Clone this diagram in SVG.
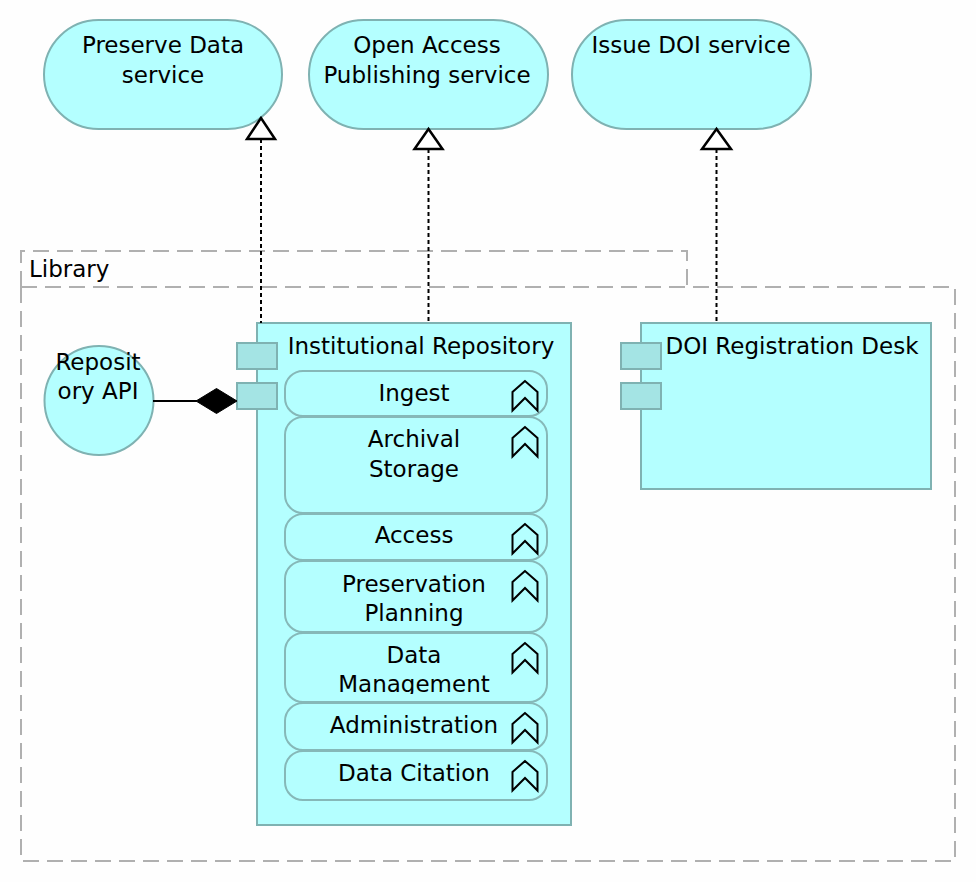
<svg xmlns="http://www.w3.org/2000/svg" width="976" height="882" viewBox="0 0 976 882">
<defs>
<style>
text{font-family:"DejaVu Sans","Liberation Sans",sans-serif;font-size:23px;fill:#000}
.c{text-anchor:middle}
.svc{fill:#b4ffff;stroke:#7fb2b2;stroke-width:2}
.comp{fill:#b4ffff;stroke:#7fb2b2;stroke-width:2}
.port{fill:#a4e4e4;stroke:#7fb2b2;stroke-width:2}
.fn{fill:#b4ffff;stroke:#86b8b8;stroke-width:2}
.ico{fill:none;stroke:#000;stroke-width:2;stroke-linejoin:miter}
.grp{fill:none;stroke:#b0b0b0;stroke-width:2;stroke-dasharray:16 8}
.real{fill:none;stroke:#000;stroke-width:2;stroke-dasharray:4 3}
.tri{fill:#fff;stroke:#000;stroke-width:2.5}
</style>
<clipPath id="clipDM"><rect x="285" y="633" width="262" height="61"/></clipPath>
</defs>
<rect width="976" height="882" fill="#fefefe"/>

<g id="library">
<path class="grp" d="M21,287 V251 H687 V287"/>
<rect class="grp" x="21" y="287" width="934" height="574"/>
<text x="29" y="277">Library</text>
</g>

<g id="svc-preserve">
<rect class="svc" x="44" y="20" width="238" height="109" rx="54.5"/>
<text class="c" x="163" y="53">Preserve Data</text>
<text class="c" x="163" y="83">service</text>
</g>
<g id="svc-openaccess">
<rect class="svc" x="309" y="20" width="239" height="109" rx="54.5"/>
<text class="c" x="427" y="53">Open Access</text>
<text class="c" x="427" y="83">Publishing service</text>
</g>
<g id="svc-doi">
<rect class="svc" x="572" y="20" width="239" height="109" rx="54.5"/>
<text class="c" x="691" y="53">Issue DOI service</text>
</g>

<g id="repo">
<rect class="comp" x="257" y="323" width="314" height="502"/>
<rect class="port" x="237" y="343" width="40" height="26"/>
<rect class="port" x="237" y="383" width="40" height="26"/>
<text class="c" x="421" y="354">Institutional Repository</text>
</g>

<g id="fn-ingest">
<rect class="fn" x="285" y="371" width="262" height="45" rx="18"/>
<text class="c" x="414" y="401">Ingest</text>
<polygon class="ico" points="525,381 512.5,392 512.5,410.5 525,398 537.5,410.5 537.5,392"/>
</g>
<g id="fn-archival">
<rect class="fn" x="285" y="417" width="262" height="96" rx="18"/>
<text class="c" x="414" y="447">Archival</text>
<text class="c" x="414" y="477">Storage</text>
<polygon class="ico" points="525,427 512.5,438 512.5,456.5 525,444 537.5,456.5 537.5,438"/>
</g>
<g id="fn-access">
<rect class="fn" x="285" y="514" width="262" height="46" rx="18"/>
<text class="c" x="414" y="543">Access</text>
<polygon class="ico" points="525,524 512.5,535 512.5,553.5 525,541 537.5,553.5 537.5,535"/>
</g>
<g id="fn-planning">
<rect class="fn" x="285" y="561" width="262" height="71" rx="18"/>
<text class="c" x="414" y="592">Preservation</text>
<text class="c" x="414" y="621">Planning</text>
<polygon class="ico" points="525,571 512.5,582 512.5,600.5 525,588 537.5,600.5 537.5,582"/>
</g>
<g id="fn-datamgmt">
<rect class="fn" x="285" y="633" width="262" height="69" rx="18"/>
<g clip-path="url(#clipDM)">
<text class="c" x="414" y="663">Data</text>
<text class="c" x="414" y="692">Management</text>
</g>
<polygon class="ico" points="525,643 512.5,654 512.5,672.5 525,660 537.5,672.5 537.5,654"/>
</g>
<g id="fn-admin">
<rect class="fn" x="285" y="703" width="262" height="47" rx="18"/>
<text class="c" x="414" y="733">Administration</text>
<polygon class="ico" points="525,713 512.5,724 512.5,742.5 525,730 537.5,742.5 537.5,724"/>
</g>
<g id="fn-citation">
<rect class="fn" x="285" y="751" width="262" height="49" rx="18"/>
<text class="c" x="414" y="781">Data Citation</text>
<polygon class="ico" points="525,761 512.5,772 512.5,790.5 525,778 537.5,790.5 537.5,772"/>
</g>

<g id="doidesk">
<rect class="comp" x="641" y="323" width="290" height="166"/>
<rect class="port" x="621" y="343" width="40" height="26"/>
<rect class="port" x="621" y="383" width="40" height="26"/>
<text class="c" x="792" y="354">DOI Registration Desk</text>
</g>

<g id="api">
<circle class="svc" cx="99" cy="400.5" r="54.5"/>
<text class="c" x="98" y="370">Reposit</text>
<text class="c" x="98" y="399">ory API</text>
</g>

<g id="connectors">
<line class="real" x1="261" y1="139" x2="261" y2="323"/>
<polygon class="tri" points="261,118 247,139 275,139"/>
<line class="real" x1="428.5" y1="149" x2="428.5" y2="323"/>
<polygon class="tri" points="428.5,129 414.5,149 442.5,149"/>
<line class="real" x1="716.5" y1="149" x2="716.5" y2="323"/>
<polygon class="tri" points="716.5,129 702,149 731,149"/>
<line x1="153" y1="401" x2="197" y2="401" stroke="#000" stroke-width="2"/>
<polygon points="196,401 216.5,388.5 237,401 216.5,413.5" fill="#000" stroke="#000" stroke-width="1"/>
</g>
</svg>
